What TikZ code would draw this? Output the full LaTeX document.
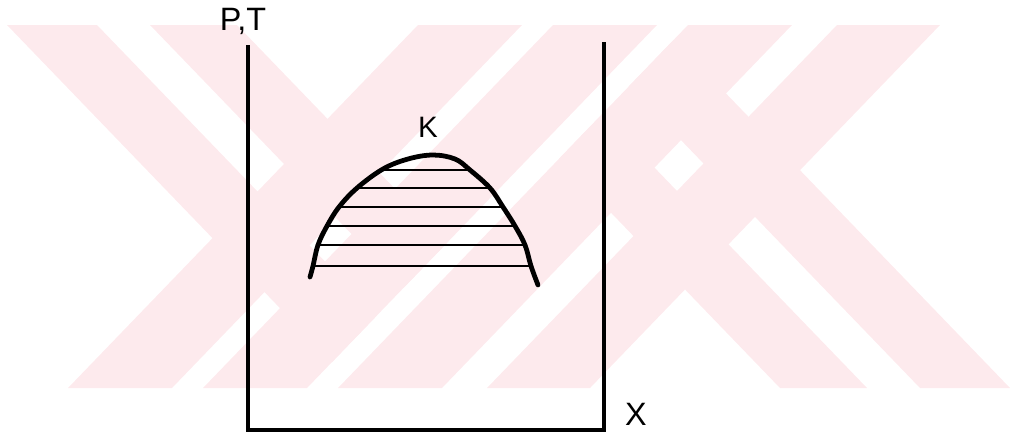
\documentclass[tikz,border=0pt]{standalone}
\usepackage{fontspec}
\setmainfont{Liberation Sans}
\usepackage{xcolor}
\definecolor{wmark}{RGB}{253,234,237}

\begin{document}
\begin{tikzpicture}[x=0.025cm, y=-0.025cm,
  wm/.style={fill=wmark, draw=none},
  axis/.style={line width=2.3pt, line join=miter},
  dome/.style={line width=3.4pt, line cap=round},
  tie/.style={line width=1.9pt},
  lbl/.style={inner sep=0pt, anchor=base, font=\fontsize{23}{26}\selectfont}]
  \useasboundingbox (0,0) rectangle (1011,435);
  \foreach \a/\b in {68/172, 203/307, 338/442, 487/590}
    \fill[wm] (\a,388) -- (\b,388) -- (\b+350,25) -- (\a+350,25) -- cycle;
  \fill[wm] (7,25) -- (97,25) -- (377.0,315.4) -- (332.0,362.1) -- cycle;
  \fill[wm] (150,25) -- (237,25) -- (447.0,242.8) -- (403.5,287.9) -- cycle;
  \fill[wm] (780,388) -- (867,388) -- (602.5,113.7) -- (559.0,158.8) -- cycle;
  \fill[wm] (920,388) -- (1010,388) -- (674.0,39.5) -- (629.0,86.2) -- cycle;
  \coordinate (ytop) at (248,45);
  \coordinate (orig) at (248,430);
  \coordinate (xend) at (604,430);
  \coordinate (rtop) at (604,42);
  \draw[axis] (ytop) -- (orig) -- (xend) -- (rtop);
  \node[lbl] (pt) at (243,30) {P,T};
  \node[lbl] (xl) at (636,425) {X};
  \node[lbl, font=\fontsize{21}{24}\selectfont] (k) at (428,137) {K};
  \begin{scope}
    \clip plot[smooth, tension=0.6] coordinates {(310,277) (313,266) (318,245) (327,226) (339,207) (357,188) (383,169) (408,159) (433,155) (455,159) (470,170) (490,188) (503,207) (515,226) (525,245) (531,266) (538,285)} -- cycle;
    \foreach \y in {170,188,207,226,245,266}
      \draw[tie] (290,\y) -- (560,\y);
  \end{scope}
  \draw[dome] plot[smooth, tension=0.6] coordinates {(310,277) (313,266) (318,245) (327,226) (339,207) (357,188) (383,169) (408,159) (433,155) (455,159) (470,170) (490,188) (503,207) (515,226) (525,245) (531,266) (538,285)};
\end{tikzpicture}
\end{document}
